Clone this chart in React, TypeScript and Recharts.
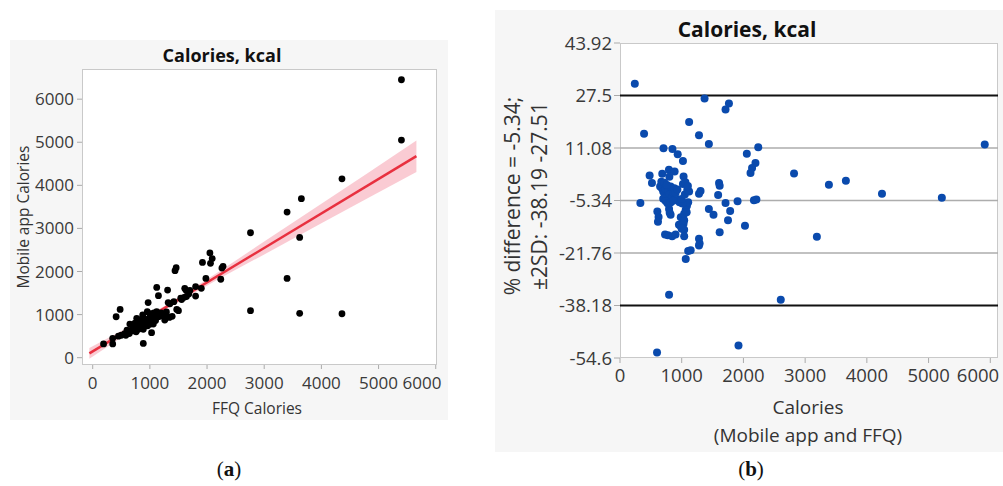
import {
  ComposedChart,
  Scatter,
  Line,
  Area,
  XAxis,
  YAxis,
  ReferenceLine,
} from 'recharts'

// (a) FFQ vs mobile app calories
const ffqCal = [
  5400, 5400, 4360, 3650, 3400, 2760, 3620, 3400, 2760, 3620, 4360, 2050, 2090, 2060, 1920, 2280,
  2260, 2240, 1980, 1900, 1800, 1800, 1610, 1630, 1640, 1460, 1440, 1555, 1470, 1500, 1310, 1320,
  1150, 1120, 970, 1290, 1340, 1260, 1180, 1030, 885, 480, 410, 190, 350, 350, 650, 680,
  710, 770, 830, 875, 800, 885, 955, 1002, 1031, 1060, 1090, 1119, 1148, 1177, 500, 560,
  600, 620, 700, 720, 740, 760, 790, 820, 840, 860, 900, 920, 940, 960, 980, 1000,
  1010, 1040, 1070, 1100, 1130, 1200, 1250, 1350, 1390, 1420, 1540, 1600, 1680, 1700, 1290, 1060,
  960, 880, 760, 640, 580, 450,
]
const appCal = [
  6450, 5050, 4150, 3690, 3380, 2900, 2790, 1840, 1090, 1030, 1020, 2430, 2300, 2190, 2210, 2120,
  2080, 1820, 1840, 1610, 1650, 1430, 1610, 1570, 1420, 2090, 2020, 1350, 1120, 1090, 1570, 1280,
  1440, 1630, 1280, 970, 935, 875, 966, 580, 330, 1120, 950, 320, 450, 320, 780, 640,
  700, 914, 835, 990, 660, 660, 1067, 951, 835, 990, 914, 1067, 951, 990, 520, 560,
  640, 600, 760, 620, 800, 720, 880, 760, 700, 800, 860, 760, 880, 820, 900, 1020,
  780, 880, 1040, 860, 1000, 1040, 1000, 1250, 960, 1300, 1380, 1400, 1480, 1560, 1060, 780,
  740, 920, 600, 560, 520, 500,
]

// fitted line and its confidence band
const fitX = [-58, 5662]
const fitY = [100, 4677]
const bandX = [-58, 500, 1300, 2200, 3000, 4000, 4800, 5662]
const bandLo = [-24, 471, 1136, 1826, 2396, 3118, 3696, 4309]
const bandHi = [224, 621, 1236, 1986, 2696, 3574, 4276, 5043]

const leftTicksX = [0, 1000, 2000, 3000, 4000, 5000, 6000]
const leftTicksY = [0, 1000, 2000, 3000, 4000, 5000, 6000]

// (b) Bland-Altman style % difference plot
const meanCal = [
  240, 1370, 1765, 1710, 1120, 390, 1280, 1440, 5910, 705, 850, 2240, 935, 2055, 1020, 2195,
  2140, 2115, 2820, 3660, 3385, 4245, 5215, 330, 480, 518, 685, 793, 885, 800, 1030, 1020,
  1605, 1615, 1590, 1280, 1305, 1905, 1710, 1785, 1750, 2170, 2210, 1440, 1515, 2025, 1615, 3190,
  1280, 1280, 1290, 1105, 1145, 1065, 795, 2605, 1920, 600, 605, 625, 615, 730, 775, 845,
  900, 795, 805, 820, 955, 985, 1030, 1040, 1040, 1065, 1085, 1105, 945, 965, 1010, 1000,
  985, 1040, 650, 680, 700, 720, 740, 760, 780, 800, 820, 840, 860, 880, 700, 740,
  770, 820, 860, 900, 930, 1050, 1090, 1120, 1060, 1100, 670, 720, 760, 1040, 1080, 1000,
]
const pctDiff = [
  31.2, 26.6, 25.0, 23.1, 19.2, 15.5, 15.1, 12.3, 12.2, 11.0, 10.8, 11.3, 9.1, 9.3, 7.0, 6.4,
  4.8, 3.3, 3.1, 0.8, -0.4, -3.2, -4.5, -6.1, 2.5, 0.1, 3.0, 4.3, 3.7, 2.1, 2.2, -0.2,
  0.1, -0.7, -3.6, -3.2, -2.4, -5.6, -6.1, -8.6, -11.5, -5.3, -5.0, -8.0, -9.8, -13.2, -15.3, -16.7,
  -17.3, -19.4, -18.8, -21.1, -20.9, -23.6, -34.8, -36.4, -50.7, -52.9, -8.8, -10.5, -12.0, -16.0, -16.2, -16.5,
  -16.0, -8.0, -9.2, -9.8, -12.9, -13.4, -12.6, -14.5, -16.5, -8.2, -7.0, -5.9, -5.1, -5.9, -6.3, -4.9,
  -10.6, -11.5, -1.0, -1.5, -2.5, -3.0, -1.8, -4.0, -2.2, -3.5, -1.0, -4.5, -2.8, -1.5, -4.8, -5.5,
  -6.2, -6.0, -5.4, -3.0, -1.9, -3.5, -2.0, -2.5, 0.4, -0.8, 0.5, 0.2, -0.5, -9.5, -9.0, -14.2,
]
const rightTicksX = [0, 1000, 2000, 3000, 4000, 5000, 6000]
const rightTicksY = [43.92, 27.5, 11.08, -5.34, -21.76, -38.18, -54.6]
const gridY = [11.08, -5.34, -21.76]
const limitsY = [27.5, -38.18]

const FONT = '"Open Sans", "Noto Sans", sans-serif'
const TICK_COLOR = '#3a3a3a'

const leftPoints = ffqCal.map((x, i) => ({ x, y: appCal[i] }))
const fitData = fitX.map((x, i) => ({ x, y: fitY[i] }))
const bandData = bandX.map((x, i) => ({ x, range: [bandLo[i], bandHi[i]] }))
const rightPoints = meanCal.map((x, i) => ({ x, y: pctDiff[i] }))

// eslint-disable-next-line @typescript-eslint/no-explicit-any
const blackDot = (p: any) => <circle cx={p.cx} cy={p.cy} r={3.4} fill="#000" />
// eslint-disable-next-line @typescript-eslint/no-explicit-any
const blueDot = (p: any) => <circle cx={p.cx} cy={p.cy} r={4} fill="#0a4aad" />

// x tick that nudges the last label left so it stays inside the panel
function edgeTick(size: number, lastShift: number) {
  // eslint-disable-next-line @typescript-eslint/no-explicit-any
  return (p: any) => (
    <text
      x={p.x + (p.payload.value === 6000 ? lastShift : 0)}
      y={p.y}
      dy="0.71em"
      textAnchor="middle"
      fontSize={size}
      fontFamily={FONT}
      fill={TICK_COLOR}
    >
      {p.payload.value}
    </text>
  )
}

function abs(left: number, top: number, extra: React.CSSProperties = {}): React.CSSProperties {
  return { position: 'absolute', left, top, ...extra }
}

const centered: React.CSSProperties = { transform: 'translate(-50%, -50%)', whiteSpace: 'nowrap' }

function FitPanel() {
  const tick = { fontSize: 17, fill: TICK_COLOR, fontFamily: FONT }
  return (
    <div style={abs(10, 40, { width: 438, height: 380, background: '#f6f6f6' })}>
      <div
        style={abs(72, 29, {
          width: 355,
          height: 296,
          background: '#fff',
          border: '1px solid #c9c9c9',
          boxSizing: 'border-box',
        })}
      />
      <div style={abs(212, 15, { ...centered, fontWeight: 700, fontSize: 18, fontFamily: FONT, color: '#111' })}>
        Calories, kcal
      </div>
      <ComposedChart
        width={438}
        height={380}
        margin={{ top: 29, right: 11, bottom: 0, left: 0 }}
        style={{ position: 'absolute', left: 0, top: 0 }}
      >
        <XAxis
          dataKey="x"
          type="number"
          domain={[-187, 6022]}
          ticks={leftTicksX}
          allowDataOverflow
          height={55}
          axisLine={false}
          tickLine={{ stroke: '#aaa' }}
          tickSize={4}
          tickMargin={8}
          tick={edgeTick(17, -10)}
        />
        <YAxis
          dataKey="y"
          type="number"
          domain={[-170, 6700]}
          ticks={leftTicksY}
          allowDataOverflow
          width={72}
          axisLine={false}
          tickLine={{ stroke: '#aaa' }}
          tickSize={5}
          tickMargin={3}
          tick={tick}
        />
        <Area
          data={bandData}
          dataKey="range"
          type="linear"
          stroke="none"
          fill="#f7a9b6"
          fillOpacity={0.6}
          isAnimationActive={false}
        />
        <Line
          data={fitData}
          dataKey="y"
          type="linear"
          stroke="#e8303f"
          strokeWidth={2.5}
          dot={false}
          isAnimationActive={false}
        />
        <Scatter data={leftPoints} shape={blackDot} isAnimationActive={false} />
      </ComposedChart>
      <div
        style={abs(13, 177, {
          fontSize: 15.5,
          fontFamily: FONT,
          color: '#333',
          transform: 'translate(-50%, -50%) rotate(-90deg)',
          whiteSpace: 'nowrap',
        })}
      >
        Mobile app Calories
      </div>
      <div style={abs(247, 368, { ...centered, fontSize: 15.5, fontFamily: FONT, color: '#333' })}>
        FFQ Calories
      </div>
    </div>
  )
}

function DiffPanel() {
  const tick = { fontSize: 18.5, fill: TICK_COLOR, fontFamily: FONT }
  return (
    <div style={abs(495, 10, { width: 508, height: 442, background: '#f6f6f6' })}>
      <div
        style={abs(125, 33, {
          width: 378,
          height: 315,
          background: '#fff',
          border: '1px solid #c9c9c9',
          boxSizing: 'border-box',
        })}
      />
      <div style={abs(252, 19, { ...centered, fontWeight: 700, fontSize: 21, fontFamily: FONT, color: '#111' })}>
        Calories, kcal
      </div>
      <ComposedChart
        width={508}
        height={442}
        margin={{ top: 33, right: 5, bottom: 0, left: 0 }}
        style={{ position: 'absolute', left: 0, top: 0 }}
      >
        <XAxis
          dataKey="x"
          type="number"
          domain={[0, 6125]}
          ticks={rightTicksX}
          allowDataOverflow
          height={94}
          axisLine={false}
          tickLine={{ stroke: '#aaa' }}
          tickSize={5}
          tickMargin={6}
          tick={edgeTick(18.5, -9)}
        />
        <YAxis
          dataKey="y"
          type="number"
          domain={[-54.6, 43.92]}
          ticks={rightTicksY}
          interval={0}
          allowDataOverflow
          width={125}
          axisLine={false}
          tickLine={{ stroke: '#aaa' }}
          tickSize={6}
          tickMargin={2}
          tick={tick}
        />
        {gridY.map((v) => (
          <ReferenceLine key={v} y={v} stroke="#adadad" strokeWidth={1.5} />
        ))}
        {limitsY.map((v) => (
          <ReferenceLine key={v} y={v} stroke="#111" strokeWidth={2} />
        ))}
        <Scatter data={rightPoints} shape={blueDot} isAnimationActive={false} />
      </ComposedChart>
      <div
        style={abs(31, 186, {
          fontSize: 21,
          lineHeight: '27px',
          fontFamily: FONT,
          color: '#333',
          textAlign: 'center',
          transform: 'translate(-50%, -50%) rotate(-90deg)',
          whiteSpace: 'nowrap',
        })}
      >
        % difference = -5.34;
        <br />
        ±2SD: -38.19 -27.51
      </div>
      <div
        style={abs(313, 411, {
          ...centered,
          fontSize: 19,
          lineHeight: '28px',
          fontFamily: FONT,
          color: '#333',
          textAlign: 'center',
        })}
      >
        Calories
        <br />
        (Mobile app and FFQ)
      </div>
    </div>
  )
}

export default function App() {
  const cap: React.CSSProperties = {
    ...centered,
    fontFamily: '"Liberation Serif", "DejaVu Serif", serif',
    fontSize: 21,
    color: '#111',
  }
  return (
    <div style={{ position: 'absolute', left: 0, top: 0, width: 1003, height: 486, background: '#fff', overflow: 'hidden' }}>
      <FitPanel />
      <DiffPanel />
      <div style={abs(229, 469, cap)}>
        (<b>a</b>)
      </div>
      <div style={abs(751, 469, cap)}>
        (<b>b</b>)
      </div>
    </div>
  )
}
